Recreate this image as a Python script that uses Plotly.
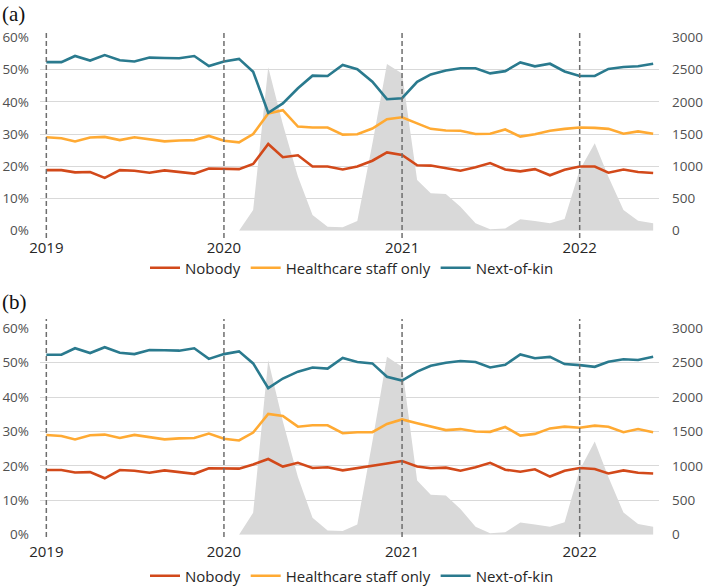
import pandas as pd
import plotly.graph_objects as go

months = pd.date_range("2019-01-01", periods=42, freq="MS")
year_lines = ["2019-01-01", "2020-01-01", "2021-01-01", "2022-01-01"]

# Panel (a) shares (%)
nobody_a = [18.8, 18.8, 18.1, 18.2, 16.4, 18.8, 18.6, 18.0, 18.7, 18.3, 17.7, 19.3, 19.3,
            19.1, 20.7, 26.9, 22.8, 23.4, 19.9, 19.9, 19.0,
            19.9, 21.7, 24.3, 23.5, 20.3, 20.2, 19.4, 18.6, 19.7, 21.0, 19.0,
            18.4, 19.1, 17.2, 18.9, 19.9, 19.9, 18.0, 19.0, 18.2, 17.9]
healthcare_a = [29.0, 28.7, 27.7, 28.9, 29.1, 28.1, 29.0, 28.3, 27.7, 28.0, 28.1, 29.4, 27.9,
                27.4, 30.0, 36.4, 37.4, 32.3, 32.0, 32.0, 29.8,
                29.9, 31.7, 34.6, 35.2, 33.3, 31.6, 31.1, 31.0, 30.0, 30.1, 31.4,
                29.2, 29.9, 31.0, 31.6, 32.0, 31.9, 31.6, 30.1, 30.8, 30.1]
nok_a = [52.3, 52.3, 54.2, 52.8, 54.5, 52.9, 52.5, 53.7, 53.6, 53.5, 54.2, 51.1, 52.5,
         53.3, 49.3, 36.6, 39.5, 44.2, 48.1, 48.0, 51.4,
         50.1, 46.2, 40.8, 41.1, 46.2, 48.5, 49.7, 50.4, 50.4, 48.8, 49.5,
         52.2, 51.0, 51.8, 49.4, 48.0, 48.0, 50.2, 50.8, 51.0, 51.8]

# Panel (b) shares (%)
nobody_b = [18.8, 18.8, 18.1, 18.2, 16.4, 18.8, 18.6, 18.0, 18.7, 18.3, 17.7, 19.3, 19.3,
            19.2, 20.4, 22.0, 19.8, 20.9, 19.4, 19.6, 18.7,
            19.3, 20.0, 20.7, 21.4, 19.8, 19.3, 19.5, 18.6, 19.6, 20.9, 18.9,
            18.3, 19.0, 16.9, 18.6, 19.4, 19.1, 17.8, 18.7, 18.0, 17.8]
healthcare_b = [29.0, 28.7, 27.7, 28.9, 29.1, 28.1, 29.0, 28.3, 27.7, 28.0, 28.1, 29.4, 27.9,
                27.4, 29.7, 35.1, 34.5, 31.4, 31.8, 31.8, 29.5,
                29.8, 29.8, 32.2, 33.5, 32.4, 31.4, 30.4, 30.7, 30.0, 29.9, 31.3,
                28.8, 29.3, 30.9, 31.4, 31.1, 31.7, 31.4, 29.8, 30.7, 29.8]
nok_b = [52.3, 52.3, 54.2, 52.8, 54.5, 52.9, 52.5, 53.7, 53.6, 53.5, 54.2, 51.1, 52.5,
         53.3, 49.8, 42.6, 45.4, 47.4, 48.6, 48.3, 51.4,
         50.2, 49.8, 45.9, 44.8, 47.4, 49.1, 50.0, 50.5, 50.2, 48.6, 49.4,
         52.4, 51.3, 51.7, 49.6, 49.3, 48.8, 50.3, 51.0, 50.8, 51.7]

# Grey area (right axis counts)
covid = [None] * 13 + [0, 320, 2535, 1650, 840, 245, 62, 52,
                       150, 1350, 2586, 2440, 786, 579, 569, 372, 114, 21, 36,
                       176, 150, 114, 181, 940, 1355, 838, 321, 155, 114]

names = ["Nobody", "Healthcare staff only", "Next-of-kin"]
colors = ["#D2491A", "#FFAA33", "#2A7A8E"]
FONT = "Open Sans"
H = 587.0
W = 704.0

fig = go.Figure()

panels = [
    dict(series=[nobody_a, healthcare_a, nok_a], xa="x", ya_area="y", ya_line="y2",
         legend="legend", dtop=33, dbot=238, label="(a)", label_y=0),
    dict(series=[nobody_b, healthcare_b, nok_b], xa="x2", ya_area="y3", ya_line="y4",
         legend="legend2", dtop=319, dbot=537, label="(b)", label_y=288),
]

for p in panels:
    fig.add_trace(go.Scatter(x=months, y=covid, xaxis=p["xa"], yaxis=p["ya_area"],
                             fill="tozeroy", mode="none", fillcolor="#D9D9D9",
                             showlegend=False, hoverinfo="skip"))
    for nm, col, vals in zip(names, colors, p["series"]):
        fig.add_trace(go.Scatter(x=months, y=vals, xaxis=p["xa"], yaxis=p["ya_line"],
                                 mode="lines", name=nm, line=dict(color=col, width=2.6),
                                 legend=p["legend"]))
    for d in year_lines:
        fig.add_shape(type="line", xref=p["xa"], yref="paper", x0=d, x1=d,
                      y0=1 - p["dbot"] / H, y1=1 - p["dtop"] / H,
                      line=dict(color="#6E6E6E", width=1.5, dash="5px,3px"), layer="above")
    fig.add_annotation(text=p["label"], xref="paper", yref="paper", x=0, y=1 - p["label_y"] / H,
                       xanchor="left", yanchor="top", showarrow=False,
                       font=dict(family="Liberation Serif", size=21, color="#111111"))

xr = ["2018-12-19", "2022-06-13"]
xd = [40 / W, 659 / W]
dom_a = [1 - 230.7 / H, 1 - 37.3 / H]
dom_b = [1 - 534.7 / H, 1 - 328.3 / H]
tickfont = dict(family=FONT, size=13.5, color="#505050")
xfont = dict(family=FONT, size=15, color="#262626")

xcommon = dict(type="date", range=xr, domain=xd, tickvals=year_lines,
               ticktext=["2019", "2020", "2021", "2022"], showgrid=False, zeroline=False,
               showline=False, ticks="", tickfont=xfont, ticklabelstandoff=6, automargin=False)
area_ax = dict(range=[0, 3000], dtick=500, side="right", showgrid=True, gridcolor="#D9D9D9",
               gridwidth=1, zeroline=False, tickfont=tickfont, ticklabelstandoff=12,
               automargin=False)
line_ax = dict(range=[0, 60], dtick=10, side="left", showgrid=False, zeroline=False,
               ticksuffix="%", tickfont=tickfont, ticklabelstandoff=10, automargin=False)

fig.update_layout(
    width=704, height=587, margin=dict(l=0, r=0, t=0, b=0, autoexpand=False),
    paper_bgcolor="white", plot_bgcolor="white",
    xaxis=dict(xcommon, anchor="y"),
    xaxis2=dict(xcommon, anchor="y3"),
    yaxis=dict(area_ax, domain=dom_a, anchor="x"),
    yaxis2=dict(line_ax, domain=dom_a, anchor="x", overlaying="y"),
    yaxis3=dict(area_ax, domain=dom_b, anchor="x2"),
    yaxis4=dict(line_ax, domain=dom_b, anchor="x2", overlaying="y3"),
    legend=dict(orientation="h", x=0.5, xanchor="center", y=1 - 268 / H, yanchor="middle",
                font=dict(family=FONT, size=15, color="#262626"), itemwidth=30,
                bgcolor="rgba(0,0,0,0)"),
    legend2=dict(orientation="h", x=0.5, xanchor="center", y=1 - 576 / H, yanchor="middle",
                 font=dict(family=FONT, size=15, color="#262626"), itemwidth=30,
                 bgcolor="rgba(0,0,0,0)"),
    showlegend=True,
)

fig.write_html("out.html")
